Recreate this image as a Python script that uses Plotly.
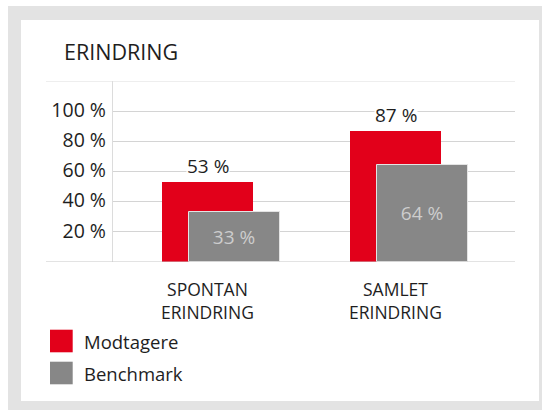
import plotly.graph_objects as go

# ---- data ----
categories = ["SPONTAN<br>ERINDRING", "SAMLET<br>ERINDRING"]
modtagere = [53, 87]
benchmark = [33, 64]
series_names = ["Modtagere", "Benchmark"]
y_tickvals = [20, 40, 60, 80, 100]
y_ticktext = ["20 %", "40 %", "60 %", "80 %", "100 %"]
title_text = "ERINDRING"

RED = "#e2001a"
GREY = "#878787"
FRAME = "#e3e3e3"
TXT = "#1e1e1e"
FONT = "Open Sans"

W, H = 542, 410
L, R, T, B = 113, 27, 81, 148
PW, PH = W - L - R, H - T - B


def px(x):
    return (x - L) / PW


def py(y):
    return (H - B - y) / PH


idx = list(range(len(categories)))
bar_w = 0.484

fig = go.Figure()
fig.add_trace(go.Bar(
    x=idx, y=modtagere, name=series_names[0], width=bar_w, offset=-bar_w / 2,
    marker=dict(color=RED, line=dict(width=0)), showlegend=False, hoverinfo="skip"))
fig.add_trace(go.Bar(
    x=idx, y=benchmark, name=series_names[1], width=bar_w, offset=-0.0995,
    marker=dict(color=GREY, line=dict(width=1, color="#e4e4e4")),
    text=[f"{v} %" for v in benchmark], textposition="inside",
    insidetextanchor="middle", textangle=0,
    textfont=dict(family=FONT, size=19, color="#cdcdcd"),
    showlegend=False, hoverinfo="skip"))

shapes = [
    dict(type="rect", xref="paper", yref="paper", x0=px(8), x1=px(560), y0=py(6), y1=py(430),
         fillcolor=FRAME, line=dict(width=0), layer="below"),
    dict(type="rect", xref="paper", yref="paper", x0=px(21), x1=px(539), y0=py(20), y1=py(401),
         fillcolor="white", line=dict(width=0), layer="below"),
    dict(type="line", xref="paper", yref="y", x0=px(46), x1=px(515), y0=120, y1=120,
         line=dict(color="#dedede", width=1.2)),
    dict(type="line", xref="paper", yref="y", x0=px(46), x1=px(515), y0=0, y1=0,
         line=dict(color="#c8c8c8", width=1.2)),
]

annotations = [
    dict(text=title_text, xref="paper", yref="paper", x=px(62), y=py(51), xanchor="left",
         yanchor="middle", showarrow=False, font=dict(family=FONT, size=21.5, color=TXT)),
]
for i, v in zip(idx, modtagere):
    annotations.append(dict(text=f"{v} %", x=i, y=v, xref="x", yref="y", yshift=16,
                            xanchor="center", yanchor="middle", showarrow=False,
                            bgcolor="white", borderpad=0,
                            font=dict(family=FONT, size=19, color=TXT)))

# category labels (two lines each)
for i, cat in zip(idx, categories):
    annotations.append(dict(text=cat, x=i, xref="x", yref="paper", y=py(300.5),
                            xanchor="center", yanchor="middle", showarrow=False,
                            font=dict(family=FONT, size=17.5, color=TXT)))

legend_colors = [RED, GREY]
legend_centers = [341, 373]
for name, col, cy in zip(series_names, legend_colors, legend_centers):
    shapes.append(dict(type="rect", xref="paper", yref="paper", x0=px(50), x1=px(72.7),
                       y0=py(cy - 11.3), y1=py(cy + 11.3), fillcolor=col, line=dict(width=0)))
    annotations.append(dict(text=name, xref="paper", yref="paper", x=px(82), y=py(cy),
                            xanchor="left", yanchor="middle", showarrow=False,
                            font=dict(family=FONT, size=18.5, color=TXT)))

fig.update_layout(
    width=W, height=H,
    margin=dict(l=L, r=R, t=T, b=B, pad=0),
    paper_bgcolor="white", plot_bgcolor="rgba(0,0,0,0)",
    barmode="overlay", bargap=0,
    showlegend=False,
    shapes=shapes, annotations=annotations,
    font=dict(family=FONT, size=17, color=TXT),
    xaxis=dict(type="linear", range=[-0.505, 1.633], tickvals=idx, showticklabels=False,
               showgrid=False, zeroline=False, showline=False, ticks="",
               fixedrange=True),
    yaxis=dict(range=[0, 120], tickvals=y_tickvals, ticktext=y_ticktext,
               showgrid=True, gridcolor="#d4d4d4", gridwidth=1.2, zeroline=False,
               showline=True, linecolor="#dcdcdc", linewidth=1.2, ticks="",
               ticklabelstandoff=2, ticklabelshift=-1,
               tickfont=dict(family=FONT, size=19.5, color=TXT),
               fixedrange=True),
)

fig.write_html(
    "out.html",
    config={"displayModeBar": False},
    post_script="document.body.style.margin='0';"
                "document.body.style.overflow='hidden';"
                "document.documentElement.style.overflow='hidden';",
)
